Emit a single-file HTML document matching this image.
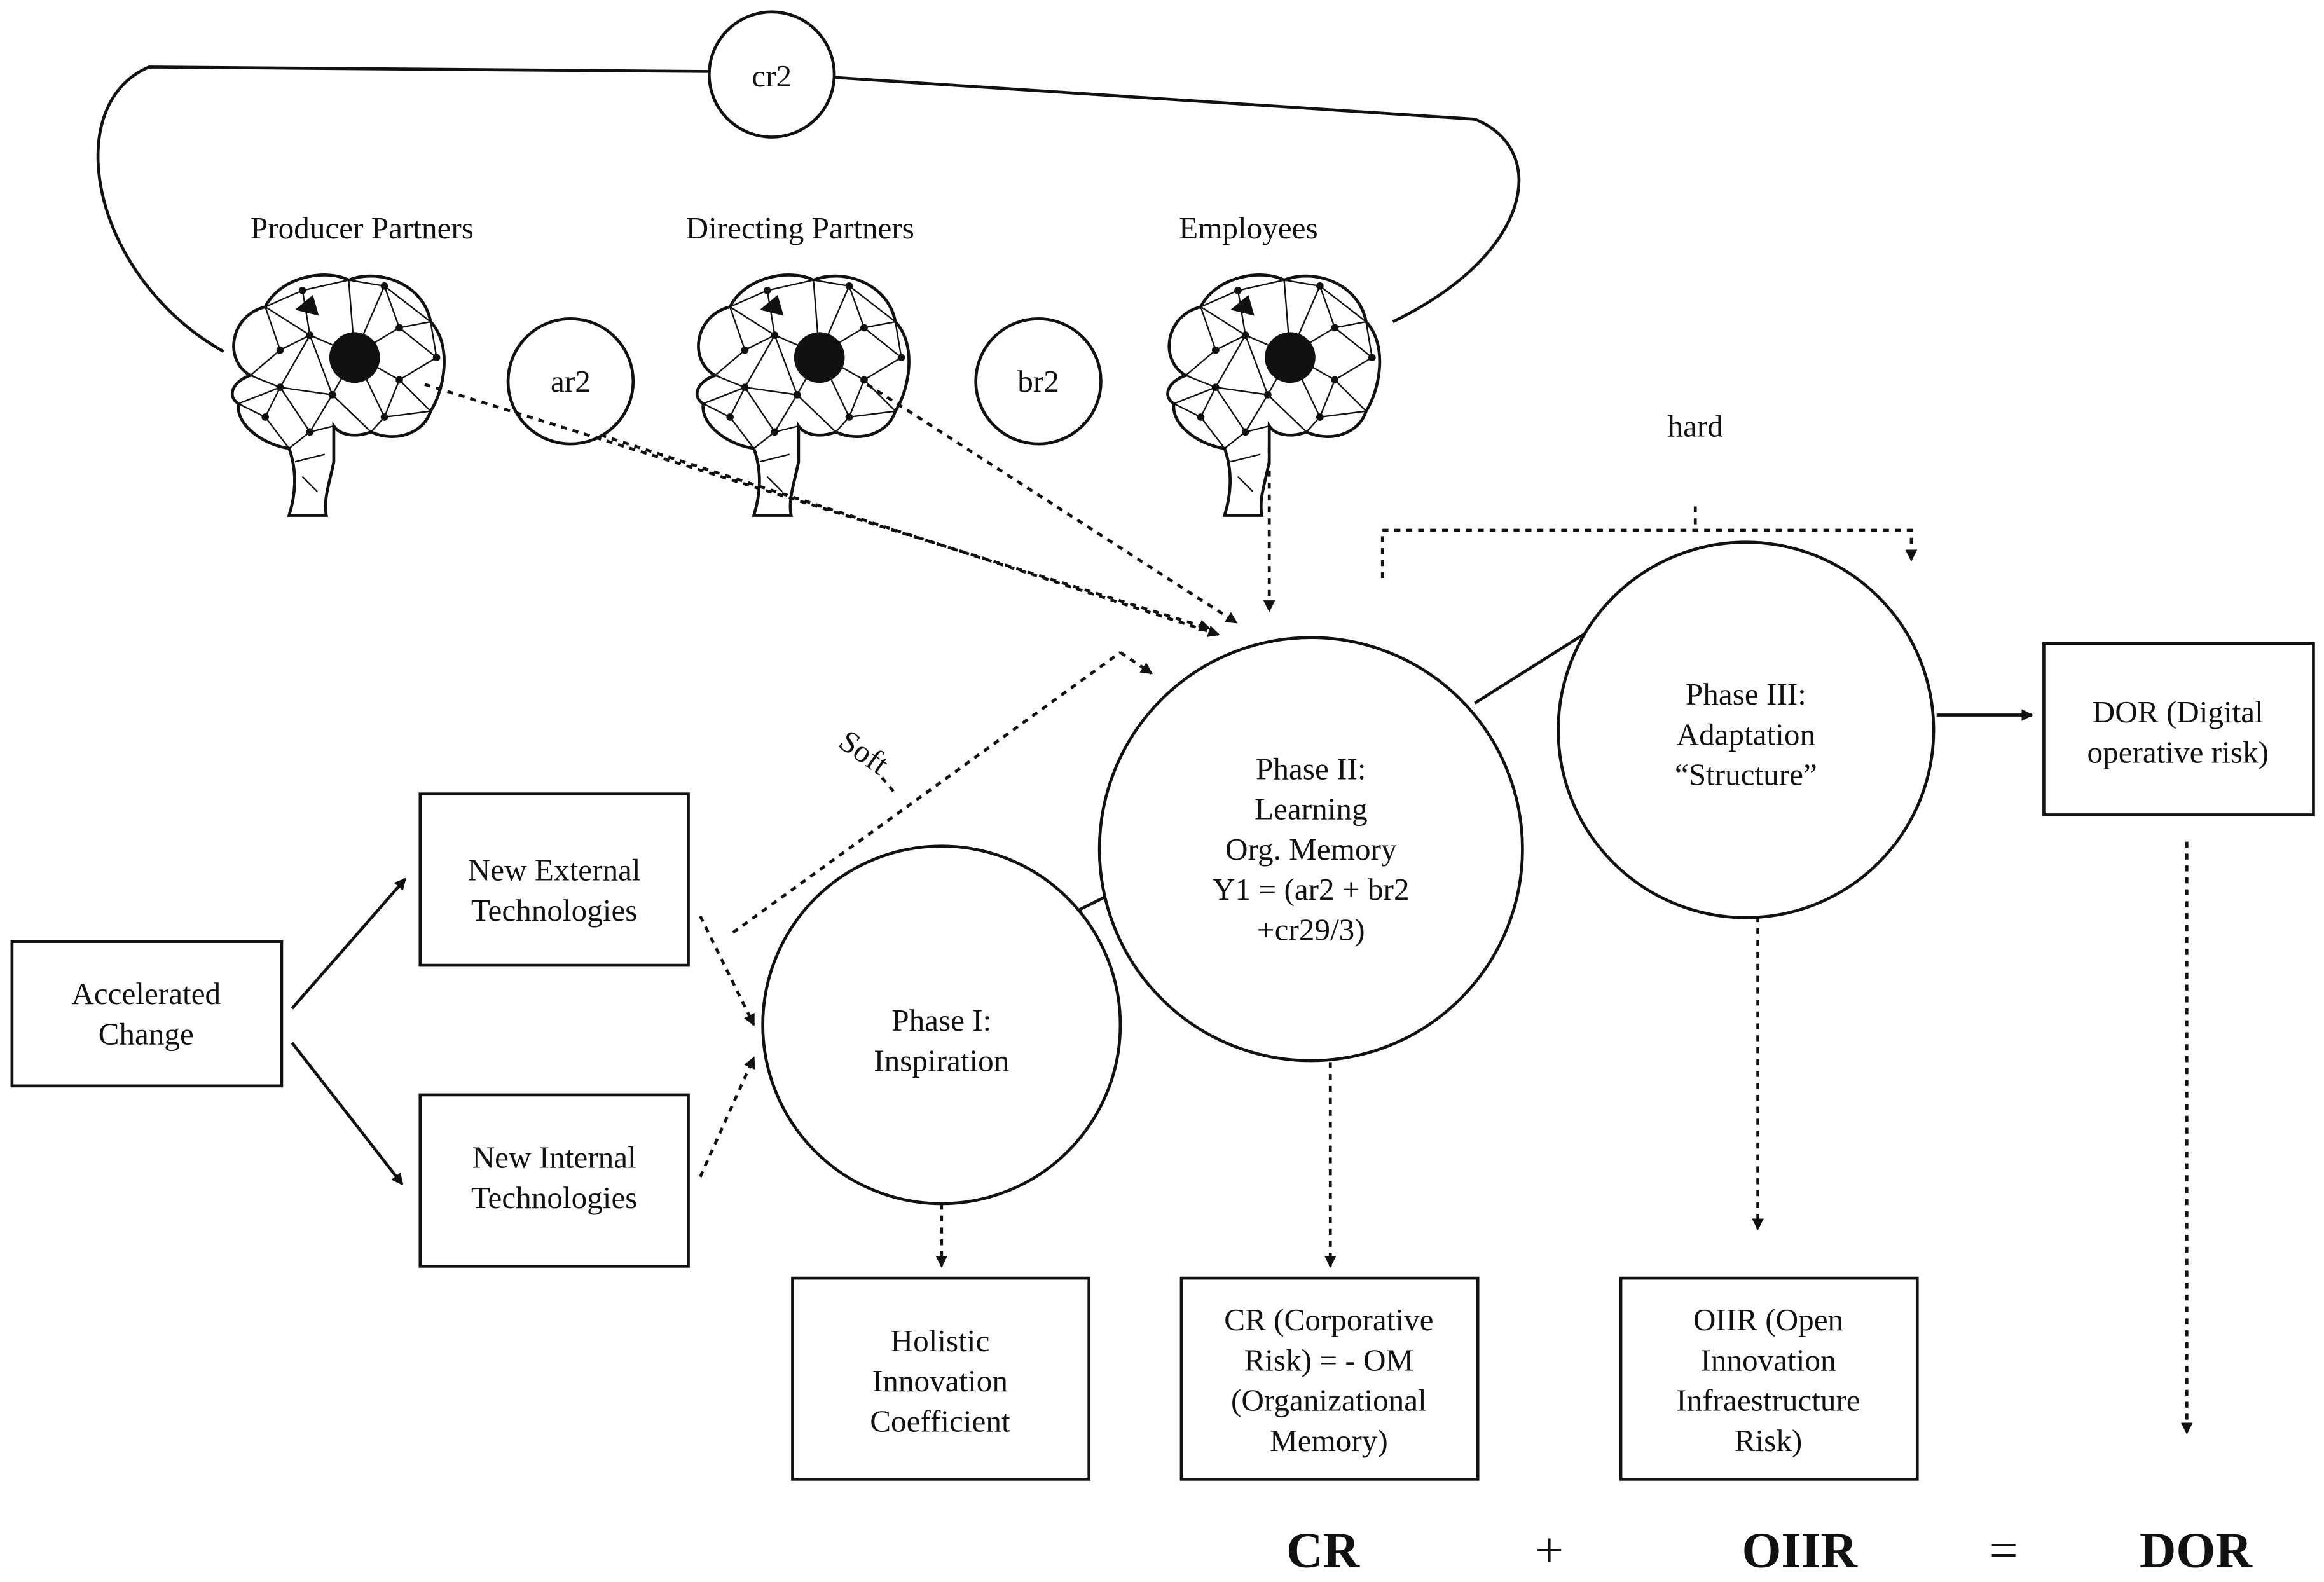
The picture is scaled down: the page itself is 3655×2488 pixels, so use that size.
<!DOCTYPE html>
<html><head><meta charset="utf-8"><style>
html,body{margin:0;padding:0;background:#fff}
svg{display:block}
text{font-family:"Liberation Serif",serif;fill:#111}
</style></head><body>
<svg width="3655" height="2488" viewBox="0 0 1560 1062" xmlns="http://www.w3.org/2000/svg">
<defs>
<marker id="ah" markerWidth="8" markerHeight="8" refX="7" refY="4" orient="auto" markerUnits="userSpaceOnUse"><path d="M0,0 L8,4 L0,8 Z" fill="#111"/></marker>
<g id="brain">
<path d="M20,72 C2,62 6,32 30,26 C40,6 70,0 86,8 C106,0 136,10 141,36 C156,52 150,82 141,96 C136,112 116,117 101,110 C90,114 80,112 76,106 L76,130 C73,145 69,155 71,166 L46,166 C51,150 51,135 46,121 C30,119 10,106 12,91 C4,86 8,76 20,72 Z" fill="#fff" stroke="#111" stroke-width="2"/>
<g stroke="#111" stroke-width="1" fill="none">
<path d="M30,26 L55,15 L86,8 L110,12 L141,36 L120,40 L90,58 L60,45 L30,26 M55,15 L60,45 L40,55 L20,72 L40,80 L60,45 M86,8 L90,58 L110,12 L120,40 L145,60 L120,75 L90,58 L75,85 L40,80 L30,100 L12,91 M120,75 L141,96 L110,100 L120,75 M110,100 L90,58 M75,85 L101,110 L110,100 M75,85 L60,110 L40,80 M60,110 L46,121 M60,110 L76,106 M40,55 L30,26 M145,60 L141,36 M40,80 L12,91 M30,100 L46,121 M60,45 L75,85 M55,140 L65,150 M50,130 L70,125"/>
</g>
<g fill="#111">
<circle cx="55" cy="15" r="2.5"/><circle cx="110" cy="12" r="2.5"/><circle cx="60" cy="45" r="2.5"/><circle cx="40" cy="55" r="2.5"/><circle cx="120" cy="40" r="2.5"/><circle cx="145" cy="60" r="2.5"/><circle cx="120" cy="75" r="2.5"/><circle cx="75" cy="85" r="2.5"/><circle cx="40" cy="80" r="2.5"/><circle cx="110" cy="100" r="2.5"/><circle cx="60" cy="110" r="2.5"/><circle cx="30" cy="100" r="2.5"/>
<path d="M50,28 L62,18 L66,32 Z"/>
<circle cx="90" cy="60" r="17"/>
</g>
</g>
</defs>

<!-- loop -->
<path d="M150,236 C60,185 40,70 100,45 L476,48 M560,52 L990,80 C1040,100 1030,170 935,216" fill="none" stroke="#111" stroke-width="2"/>
<circle cx="518" cy="50" r="42" fill="#fff" stroke="#111" stroke-width="2"/>
<text x="518" y="58" font-size="21" text-anchor="middle">cr2</text>

<text x="243" y="160" font-size="21" text-anchor="middle">Producer Partners</text>
<text x="537" y="160" font-size="21" text-anchor="middle">Directing Partners</text>
<text x="838" y="160" font-size="21" text-anchor="middle">Employees</text>

<use href="#brain" x="148" y="180"/>
<use href="#brain" x="460" y="180"/>
<use href="#brain" x="776" y="180"/>

<circle cx="383" cy="256" r="42" fill="#fff" stroke="#111" stroke-width="2"/>
<text x="383" y="263" font-size="21" text-anchor="middle">ar2</text>
<circle cx="697" cy="256" r="42" fill="#fff" stroke="#111" stroke-width="2"/>
<text x="697" y="263" font-size="21" text-anchor="middle">br2</text>

<g stroke="#111" stroke-width="2" stroke-dasharray="4,4" fill="none">
<path d="M285,258 L812,422" marker-end="url(#ah)"/>
<path d="M403,292 L818,426" marker-end="url(#ah)"/>
<path d="M582,258 L830,418" marker-end="url(#ah)"/>
<path d="M852,300 L852,410" marker-end="url(#ah)"/>
<path d="M928,388 L928,356 L1283,356 L1283,376" marker-end="url(#ah)"/>
<path d="M1138,340 L1138,356"/>
<path d="M492,626 L752,438"/>
<path d="M752,438 L773,452" marker-end="url(#ah)"/>
<path d="M592,522 L602,534"/>
<path d="M470,615 L506,688" marker-end="url(#ah)"/>
<path d="M470,790 L506,710" marker-end="url(#ah)"/>
<path d="M632,808 L632,850" marker-end="url(#ah)"/>
<path d="M893,705 L893,850" marker-end="url(#ah)"/>
<path d="M1180,615 L1180,825" marker-end="url(#ah)"/>
<path d="M1468,565 L1468,962" marker-end="url(#ah)"/>
</g>
<text x="1138" y="293" font-size="21" text-anchor="middle">hard</text>
<text x="580" y="512" font-size="21" text-anchor="middle" transform="rotate(35 580 505)">Soft</text>

<g stroke="#111" stroke-width="2" fill="none">
<path d="M722,612 L758,594"/>
<path d="M990,472 L1066,424"/>
<path d="M1300,480 L1364,480" marker-end="url(#ah)"/>
<path d="M196,677 L272,590" marker-end="url(#ah)"/>
<path d="M196,700 L270,795" marker-end="url(#ah)"/>
</g>

<g fill="#fff" stroke="#111" stroke-width="2">
<circle cx="632" cy="688" r="120"/>
<circle cx="880" cy="570" r="142"/>
<circle cx="1172" cy="490" r="126"/>
<rect x="1372" y="432" width="181" height="115"/>
<rect x="8" y="632" width="181" height="97"/>
<rect x="282" y="533" width="180" height="115"/>
<rect x="282" y="735" width="180" height="115"/>
<rect x="532" y="858" width="199" height="135"/>
<rect x="793" y="858" width="199" height="135"/>
<rect x="1088" y="858" width="199" height="135"/>
</g>

<g font-size="21" text-anchor="middle">
<text x="632" y="692">Phase I:</text><text x="632" y="719">Inspiration</text>
<text x="880" y="523">Phase II:</text><text x="880" y="550">Learning</text><text x="880" y="577">Org. Memory</text><text x="880" y="604">Y1 = (ar2 + br2</text><text x="880" y="631">+cr29/3)</text>
<text x="1172" y="473">Phase III:</text><text x="1172" y="500">Adaptation</text><text x="1172" y="527">“Structure”</text>
<text x="1462" y="485">DOR (Digital</text><text x="1462" y="512">operative risk)</text>
<text x="98" y="674">Accelerated</text><text x="98" y="701">Change</text>
<text x="372" y="591">New External</text><text x="372" y="618">Technologies</text>
<text x="372" y="784">New Internal</text><text x="372" y="811">Technologies</text>
<text x="631" y="907">Holistic</text><text x="631" y="934">Innovation</text><text x="631" y="961">Coefficient</text>
<text x="892" y="893">CR (Corporative</text><text x="892" y="920">Risk) = - OM</text><text x="892" y="947">(Organizational</text><text x="892" y="974">Memory)</text>
<text x="1187" y="893">OIIR (Open</text><text x="1187" y="920">Innovation</text><text x="1187" y="947">Infraestructure</text><text x="1187" y="974">Risk)</text>
</g>

<g font-size="34" font-weight="bold" text-anchor="middle">
<text x="888" y="1052">CR</text>
<text x="1040" y="1052" font-weight="normal">+</text>
<text x="1208" y="1052">OIIR</text>
<text x="1345" y="1052" font-weight="normal">=</text>
<text x="1474" y="1052">DOR</text>
</g>
</svg>
</body></html>
